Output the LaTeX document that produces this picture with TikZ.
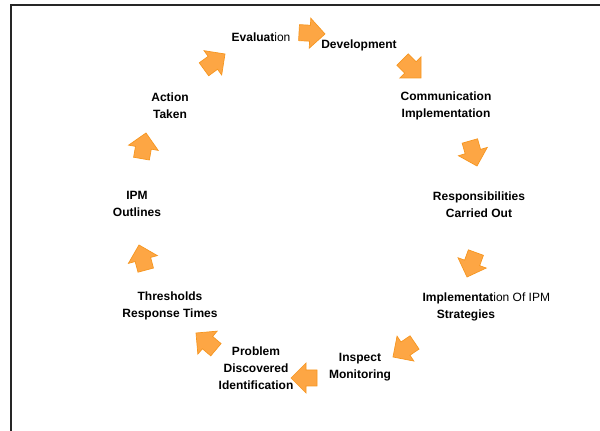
\documentclass[tikz,border=0pt]{standalone}
\usepackage{fontspec}
\setmainfont{Liberation Sans}
\begin{document}
\begin{tikzpicture}[x=1pt,y=1pt,
  lbl/.style={inner sep=0pt, align=center, font=\fontsize{12}{17}\selectfont\bfseries},
  arrowfill/.style={fill={rgb,255:red,253;green,166;blue,68}, draw={rgb,255:red,246;green,150;blue,32}, line width=0.7pt, line join=miter},
  cyc/.pic={\filldraw[arrowfill] (0,0) -- (-15,15) -- (-15,8) -- (-26,8) -- (-26,-8) -- (-15,-8) -- (-15,-15) -- cycle;}
]
\useasboundingbox (0,0) rectangle (600,431);
% frame
\draw[line width=1.3pt, black!85] (11,0) -- (11,426) -- (600,426);
% labels
\node[lbl] (eval) at (261,394) {Evaluat\mdseries ion};
\node[lbl] (dev) at (359,386) {Development};
\node[lbl] (comm) at (446,325) {Communication\\Implementation};
\node[lbl] (resp) at (479,226) {Responsibilities\\Carried Out};
\node[lbl] (impl) at (466,124.5) {Implementat{\mdseries ion\rlap{ Of IPM}}\\Strategies};
\node[lbl] (insp) at (360,64) {Inspect\\Monitoring};
\node[lbl] (prob) at (256,63) {Problem\\Discovered\\Identification};
\node[lbl] (thr) at (170,125) {Thresholds\\Response Times};
\node[lbl] (ipm) at (137,227) {IPM\\Outlines};
\node[lbl] (act) at (170,325) {Action\\Taken};
% block arrows
\pic[rotate=-3] at (325,397) {cyc};
\pic[rotate=-45] at (421,353) {cyc};
\pic[rotate=-74] at (477,265) {cyc};
\pic[rotate=-110] at (467,154) {cyc};
\pic[rotate=-146] at (393,74) {cyc};
\pic[rotate=180] at (291,53) {cyc};
\pic[rotate=140] at (196,98) {cyc};
\pic[rotate=105] at (139,186) {cyc};
\pic[rotate=80] at (146,298) {cyc};
\pic[rotate=36] at (225,377) {cyc};
\end{tikzpicture}
\end{document}
